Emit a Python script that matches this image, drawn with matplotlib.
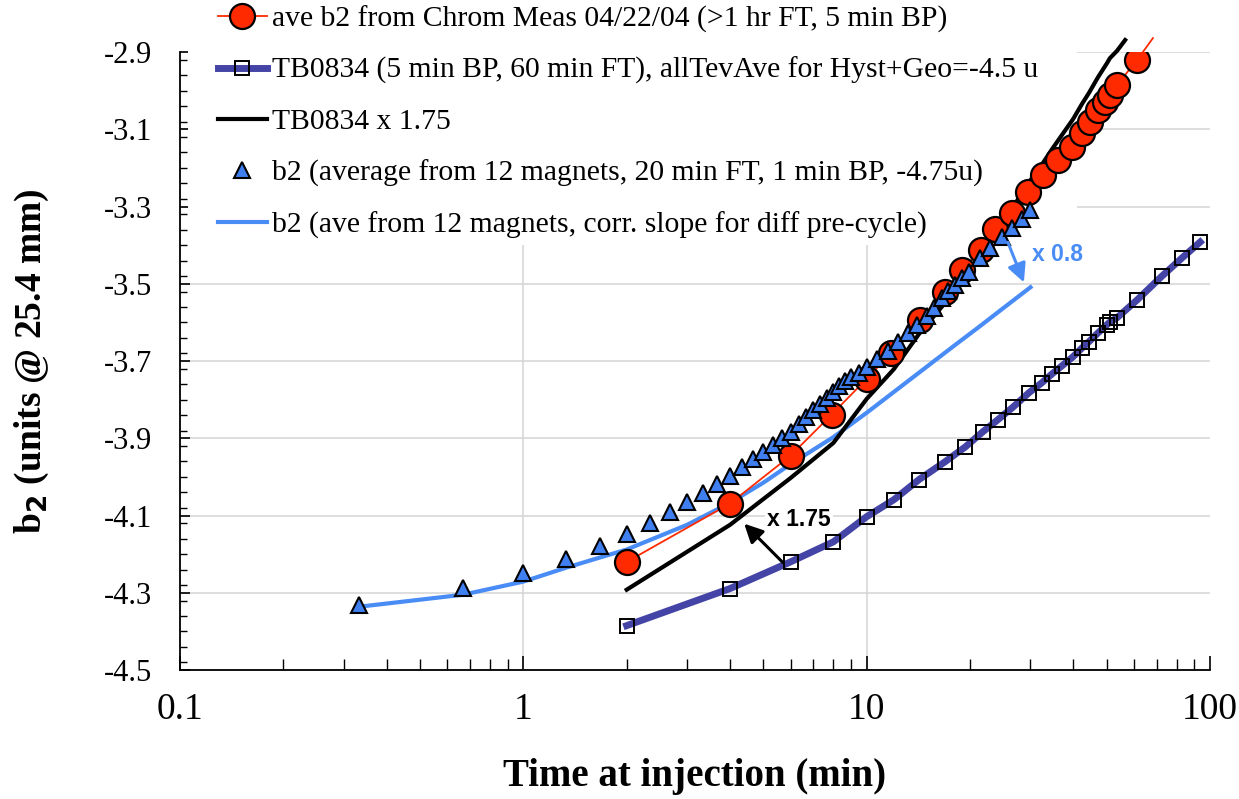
import numpy as np
import matplotlib
matplotlib.use('Agg')
import matplotlib.pyplot as plt
from matplotlib.patches import Rectangle
from matplotlib.ticker import FixedLocator, MultipleLocator, LogLocator, NullFormatter

plt.rcParams['font.family'] = ['Liberation Serif', 'DejaVu Serif']

# ave b2 from Chrom Meas 04/22/04 (red circles)
t_chrom = [2.0, 4.0, 6.0, 7.9, 10.0, 11.8, 14.3, 16.9, 19.0, 21.5, 23.6, 26.5, 29.5,
           32.6, 36.1, 39.6, 42.4, 44.7, 47.2, 49.5, 51.1, 53.6, 61.3]
b2_chrom = [-4.220, -4.069, -3.945, -3.839, -3.746, -3.679, -3.593, -3.521, -3.464,
            -3.412, -3.358, -3.317, -3.262, -3.218, -3.179, -3.146, -3.110, -3.081,
            -3.050, -3.029, -3.011, -2.985, -2.921]
# red connecting line runs a little past the last circle
t_chrom_tail = [61.3, 68.2]
b2_chrom_tail = [-2.921, -2.864]

# TB0834 (squares)
t_tb = [2, 4, 6, 8, 10, 12, 14.2, 16.9, 19.4, 21.8, 24.1, 26.7, 29.7, 32.4, 34.7, 37.1,
        39.9, 42.4, 44.4, 47.2, 50.1, 51.1, 53.6, 61.3, 72.5, 82.9, 93.6]
b2_tb = [-4.385, -4.289, -4.220, -4.168, -4.103, -4.059, -4.007, -3.961, -3.922, -3.883,
         -3.852, -3.819, -3.782, -3.756, -3.733, -3.712, -3.689, -3.666, -3.650, -3.627,
         -3.606, -3.599, -3.588, -3.542, -3.480, -3.433, -3.392]

# TB0834 x 1.75 (black line)
t_tbx = [2, 4, 6, 8, 10, 12, 14.2, 16.9, 19.4, 21.8, 24.1, 26.7, 29.7, 32.4, 34.7, 37.1,
         39.9, 42.4, 44.4, 47.2, 50.1, 51.1, 53.6, 56.6]
b2_tbx = [-4.292, -4.124, -4.003, -3.912, -3.798, -3.721, -3.630, -3.550, -3.482, -3.413,
          -3.359, -3.301, -3.237, -3.191, -3.151, -3.114, -3.074, -3.034, -3.006, -2.965,
          -2.929, -2.916, -2.897, -2.869]

# b2 average from 12 magnets (triangles)
t_mag = [0.333, 0.667, 1.0, 1.333, 1.667, 2.0, 2.333, 2.667, 3.0, 3.333, 3.667, 4.0,
         4.333, 4.667, 5.0, 5.333, 5.667, 6.0, 6.333, 6.667, 7.0, 7.333, 7.667, 8.0,
         8.333, 8.667, 9.0, 9.5, 10.0, 10.7, 11.5, 12.3, 13.2, 14.0, 15.0, 15.7, 16.6,
         17.3, 18.1, 19.0, 19.9, 21.4, 22.9, 24.8, 26.5, 28.4, 30.0]
b2_mag = [-4.331, -4.287, -4.248, -4.212, -4.178, -4.147, -4.119, -4.090, -4.064, -4.041,
          -4.018, -3.997, -3.974, -3.953, -3.935, -3.917, -3.899, -3.883, -3.862, -3.844,
          -3.826, -3.811, -3.795, -3.780, -3.764, -3.751, -3.741, -3.731, -3.715, -3.694,
          -3.674, -3.650, -3.627, -3.606, -3.583, -3.562, -3.537, -3.518, -3.503, -3.485,
          -3.469, -3.433, -3.407, -3.379, -3.355, -3.332, -3.309]

# b2 ave from 12 magnets, corrected slope (light blue line)
t_corr = [0.333, 0.667, 1.0, 1.333, 1.667, 2.0, 3.0, 4.0, 5.0, 6.0, 8.0, 10.0, 12.5,
          15.0, 18.0, 21.0, 25.0, 30.0]
b2_corr = [-4.336, -4.305, -4.271, -4.235, -4.209, -4.188, -4.124, -4.067, -4.015, -3.967,
           -3.897, -3.834, -3.768, -3.714, -3.660, -3.615, -3.563, -3.509]

x_ticks = [0.1, 1, 10, 100]
x_ticklabels = ['0.1', '1', '10', '100']
y_ticks = [-4.5, -4.3, -4.1, -3.9, -3.7, -3.5, -3.3, -3.1, -2.9]

labels = ['ave b2 from Chrom Meas 04/22/04 (>1 hr FT, 5 min BP)',
          'TB0834 (5 min BP, 60 min FT), allTevAve for Hyst+Geo=-4.5 u',
          'TB0834 x 1.75',
          'b2 (average from 12 magnets, 20 min FT, 1 min BP, -4.75u)',
          'b2 (ave from 12 magnets, corr. slope for diff pre-cycle)']

red = '#ff2a00'
navy = '#4444a6'
tri_blue = '#3f7ff0'
light_blue = '#4a8cf6'

fig = plt.figure(figsize=(12.39, 7.99), dpi=100)
ax = fig.add_axes([0.1453, 0.1614, 0.9766 - 0.1453, 0.9349 - 0.1614])

ax.set_xscale('log')
ax.set_xlim(0.1, 100)
ax.set_ylim(-4.5, -2.9)

# series
l_tb, = ax.plot(t_tb, b2_tb, '-', color=navy, lw=5, marker='s', ms=10.5,
                mfc='none', mec='black', mew=1.4, zorder=3)
l_corr, = ax.plot(t_corr, b2_corr, '-', color=light_blue, lw=3, zorder=3.2)
l_tbx, = ax.plot(t_tbx, b2_tbx, '-', color='black', lw=3, zorder=3.4, clip_on=False)
ax.plot(t_chrom_tail, b2_chrom_tail, '-', color=red, lw=1.3, zorder=3.5, clip_on=False)
l_chrom, = ax.plot(t_chrom, b2_chrom, '-', color=red, lw=1.3, marker='o', ms=18,
                   mfc=red, mec='black', mew=1.6, zorder=3.6)
l_mag, = ax.plot(t_mag, b2_mag, linestyle='none', marker='^', ms=12,
                 mfc=tri_blue, mec='black', mew=1.5, zorder=3.8)

# axes styling
ax.xaxis.set_major_locator(FixedLocator(x_ticks))
ax.set_xticklabels(x_ticklabels)
ax.xaxis.set_minor_locator(LogLocator(base=10, subs=np.arange(2, 10)))
ax.xaxis.set_minor_formatter(NullFormatter())
ax.set_yticks(y_ticks)
ax.set_yticklabels(['%.1f' % v for v in y_ticks])
ax.yaxis.set_minor_locator(MultipleLocator(0.04))

ax.tick_params(axis='x', which='major', direction='in', length=10, width=1.2,
               labelsize=27, pad=16)
ax.tick_params(axis='x', which='minor', direction='in', length=8, width=1.0)
ax.tick_params(axis='y', which='major', direction='in', length=7, width=1.2,
               labelsize=22, pad=20)
ax.tick_params(axis='y', which='minor', direction='in', length=5, width=1.0)

ax.set_axisbelow(True)
ax.grid(True, which='major', color='#d4d4d4', lw=1.1)
xgl = ax.xaxis.get_gridlines()
xgl[0].set_visible(False)
xgl[-1].set_visible(False)

for s in ['top', 'right']:
    ax.spines[s].set_visible(False)
for s in ['left', 'bottom']:
    ax.spines[s].set_linewidth(1.3)

ax.set_xlabel('Time at injection (min)', fontsize=28, fontweight='bold')
ax.xaxis.set_label_coords(0.5, -0.142)
ax.set_ylabel('b$_\\mathbf{2}$ (units @ 25.4 mm)', fontsize=27, fontweight='bold')
ax.yaxis.set_label_coords(-0.125, 0.5)

# annotations
ax.annotate('', xy=(4.34, -4.116), xytext=(5.78, -4.227),
            arrowprops=dict(arrowstyle='-|>', color='black', lw=2.2,
                            mutation_scale=28), zorder=4)
ax.text(5.13, -4.111, 'x 1.75', family='Liberation Sans', fontweight='bold',
        fontsize=16.5, va='center', ha='left', zorder=3.3,
        bbox=dict(facecolor='white', edgecolor='none', pad=1.5))
ax.annotate('', xy=(28.9, -3.503), xytext=(25.6, -3.386),
            arrowprops=dict(arrowstyle='-|>', color=light_blue, lw=2.2,
                            mutation_scale=28), zorder=4)
ax.text(30.4, -3.425, 'x 0.8', family='Liberation Sans', fontweight='bold',
        fontsize=16.5, va='center', ha='left', color=light_blue, zorder=3.3)

# white legend area hiding the grid behind it (data stays on top)
ax.add_patch(Rectangle((0.008, 0.688), 0.863, 0.4, transform=ax.transAxes,
                       facecolor='white', edgecolor='none', zorder=1.5,
                       clip_on=False))

leg = ax.legend([l_chrom, l_tb, l_tbx, l_mag, l_corr], labels,
                loc='upper left', bbox_to_anchor=(0.176, 0.993),
                bbox_transform=fig.transFigure,
                fontsize=21.3, frameon=False, borderpad=0,
                labelspacing=0.82, handlelength=1.64, handletextpad=0.17,
                borderaxespad=0, numpoints=1)
leg.set_zorder(1.6)

fig.savefig('out.png', dpi=100)
